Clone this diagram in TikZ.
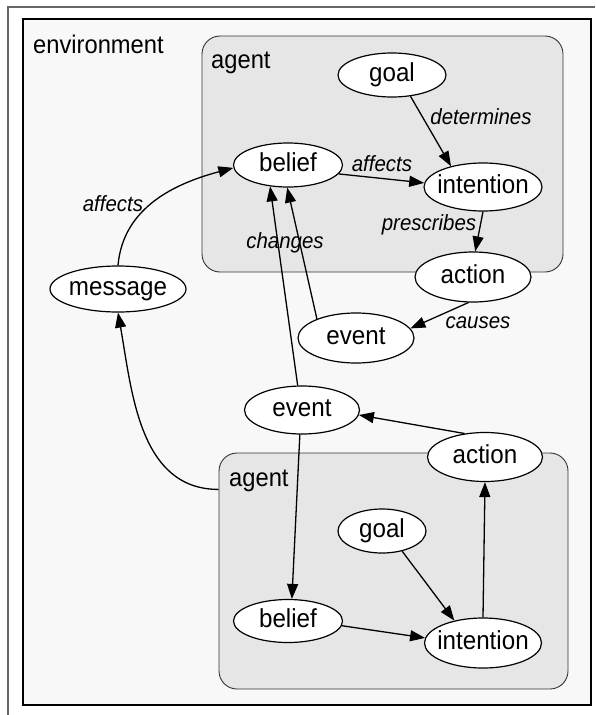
\documentclass[tikz,border=0pt]{standalone}
\usepackage{fontspec}
\setmainfont{Liberation Sans}
\newfontfamily\nodefont[FakeStretch=0.93]{Liberation Sans}
\usetikzlibrary{shapes.geometric,arrows.meta}
\definecolor{envfill}{HTML}{F8F8F8}
\definecolor{agentfill}{HTML}{E6E6E6}
\definecolor{framegray}{HTML}{666666}
\begin{document}
\begin{tikzpicture}[x=1pt,y=1pt,
  concept/.style={ellipse,draw=black,fill=white,line width=1.2pt,inner sep=0pt,
    text height=17pt,text depth=4pt,font=\nodefont\fontsize{26}{29}\selectfont},
  edge/.style={line width=1.3pt,-{Triangle[length=15pt,width=11pt]}},
  lbl/.style={font=\nodefont\fontsize{22}{25}\selectfont\itshape,inner sep=1pt},
  title/.style={font=\nodefont\fontsize{25.5}{28}\selectfont,inner sep=0pt,anchor=base west},
  agentbox/.style={draw=black!80,fill=agentfill,rounded corners=18pt,line width=0.9pt,inner sep=0pt},
]
\useasboundingbox (0,0) rectangle (595,-715);
\fill[white] (0,0) rectangle (595,-715);
\draw[framegray,line width=1.2pt] (8,-715) -- (8,-7) -- (595,-7);
\node[draw=black,line width=1.8pt,fill=envfill,inner sep=0pt,minimum width=568pt,minimum height=686pt] (env) at (307,-362) {};
\node[title] (envlabel) at (33,-53) {environment};

% agent boxes
\node[agentbox,minimum width=361pt,minimum height=236pt] (agentA) at (382.5,-154) {};
\node[agentbox,minimum width=349pt,minimum height=236pt] (agentB) at (393.5,-571) {};
\node[title] (agentAlabel) at (211,-68) {agent};
\node[title] (agentBlabel) at (229,-486) {agent};

% concept nodes
\node[concept,minimum width=108pt,minimum height=44pt] (goalA) at (392,-75) {\makebox[0pt]{goal}};
\node[concept,minimum width=118pt,minimum height=48pt] (intA) at (483,-187) {\makebox[0pt]{intention}};
\node[concept,minimum width=109pt,minimum height=44pt] (beliefA) at (288,-165) {\makebox[0pt]{belief}};
\node[concept,minimum width=116pt,minimum height=50pt] (actionA) at (473,-277) {\makebox[0pt]{action}};
\node[concept,minimum width=116pt,minimum height=50pt] (eventA) at (356,-338) {\makebox[0pt]{event}};
\node[concept,minimum width=136pt,minimum height=46pt] (message) at (118,-289) {\makebox[0pt]{message}};
\node[concept,minimum width=115pt,minimum height=48pt] (eventB) at (302,-410) {\makebox[0pt]{event}};
\node[concept,minimum width=115pt,minimum height=49pt] (actionB) at (485,-457) {\makebox[0pt]{action}};
\node[concept,minimum width=88pt,minimum height=44pt] (goalB) at (382,-531) {\makebox[0pt]{goal}};
\node[concept,minimum width=109pt,minimum height=43pt] (beliefB) at (288,-621) {\makebox[0pt]{belief}};
\node[concept,minimum width=117pt,minimum height=50pt] (intB) at (483,-643) {\makebox[0pt]{intention}};

% edges
\draw[edge] (goalA.-49) -- (intA.147);
\draw[edge] (beliefA.-10) -- (intA.176);
\draw[edge] (intA.-90) -- (actionA.85);
\draw[edge] (actionA.-100) -- (eventA.10);
\draw[edge] (eventA.154) -- (beliefA.-92);
\draw[edge] (eventB.100) -- (beliefA.-130);
\draw[edge] (message.north) to[out=85,in=195] (beliefA.183);
\draw[edge] (agentB.155.6) to[out=180,in=-80] (message.south);
\draw[edge] (actionB.131) -- (eventB.-5);
\draw[edge] (eventB.-95) -- (beliefB.80);
\draw[edge] (goalB.-45) -- (intB.142);
\draw[edge] (beliefB.-5) -- (intB.175);
\draw[edge] (intB.north) -- (actionB.south);

% edge labels
\node[lbl] (determines) at (481,-117) {determines};
\node[lbl] (affectsA) at (382,-164) {affects};
\node[lbl] (prescribes) at (429,-225) {prescribes};
\node[lbl] (changes) at (285,-243) {changes};
\node[lbl] (causes) at (478,-323) {causes};
\node[lbl] (affectsL) at (113,-204) {affects};
\end{tikzpicture}
\end{document}
